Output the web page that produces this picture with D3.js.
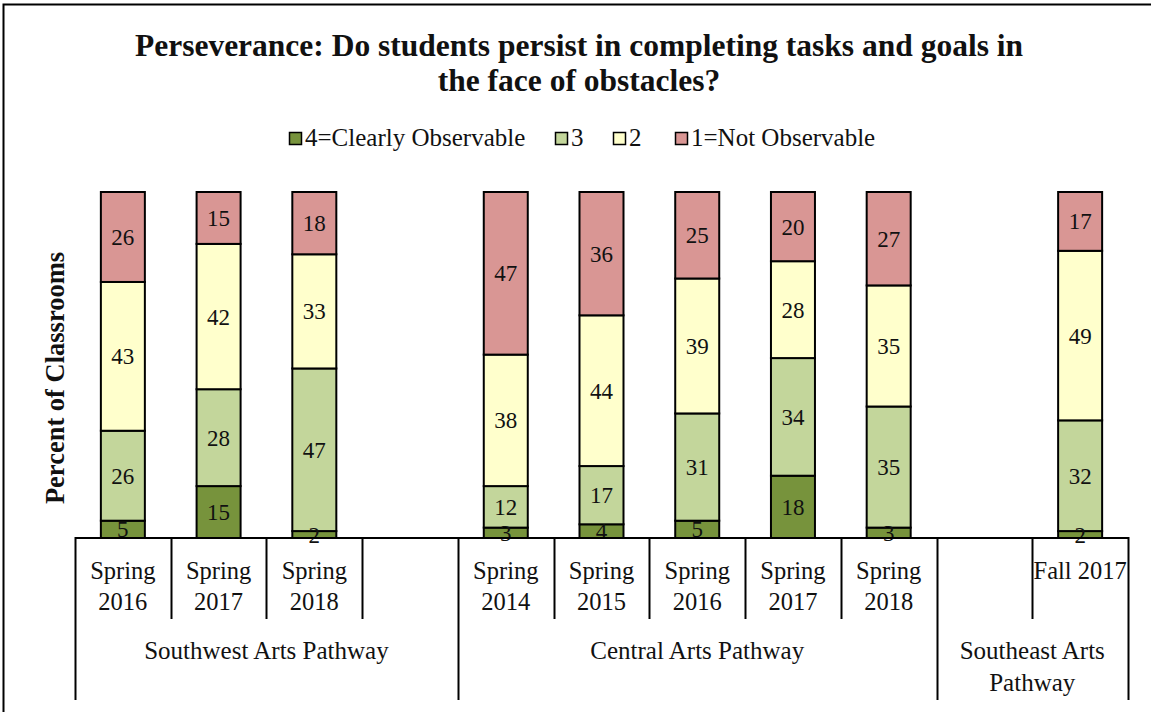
<!DOCTYPE html>
<html>
<head>
<meta charset="utf-8">
<script src="https://cdn.jsdelivr.net/npm/d3@7"></script>
<style>
  html, body { margin: 0; padding: 0; background: #fff; }
  svg { display: block; }
  text { font-family: "Liberation Serif", "Times New Roman", serif; fill: #111; }
</style>
</head>
<body>
<svg id="chart" width="1151" height="712"></svg>
<script>
// Observation slots along the axis; "" marks an empty slot that spaces the groups apart.
const categories = ["Spring\n2016", "Spring\n2017", "Spring\n2018", "",
                    "Spring\n2014", "Spring\n2015", "Spring\n2016", "Spring\n2017", "Spring\n2018", "",
                    "Fall 2017"];
const groupNames = ["Southwest Arts Pathway", "Central Arts Pathway", "Southeast Arts\nPathway"];
const groupSpans = [4, 5, 2];

// Percent of classrooms at each rating (null = no data in that slot)
const level4 = [5, 15, 2, null, 3, 4, 5, 18, 3, null, 2];
const level3 = [26, 28, 47, null, 12, 17, 31, 34, 35, null, 32];
const level2 = [43, 42, 33, null, 38, 44, 39, 28, 35, null, 49];
const level1 = [26, 15, 18, null, 47, 36, 25, 20, 27, null, 17];

const seriesNames = ["4=Clearly Observable", "3", "2", "1=Not Observable"];
const seriesColors = ["#77933C", "#C3D69B", "#FFFFCC", "#D99694"];

const title = ["Perseverance: Do students persist in completing tasks and goals in",
               "the face of obstacles?"];
const yTitle = "Percent of Classrooms";

// ---- layout ----
const svg = d3.select("#chart");
const plot = { left: 75, right: 1128, top: 192, bottom: 538 };
const barWidth = 44;

const slots = d3.range(categories.length);

const x = d3.scaleBand().domain(slots).range([plot.left, plot.right]).padding(0);
const y = d3.scaleLinear().domain([0, 1]).range([plot.bottom, plot.top]);

// outer frame
svg.append("rect")
  .attr("x", 3.5).attr("y", 4.5).attr("width", 1170).attr("height", 730)
  .attr("fill", "none").attr("stroke", "#000").attr("stroke-width", 2);

// title
svg.append("text")
  .attr("text-anchor", "middle")
  .style("font-weight", "bold").style("font-size", "31.5px")
  .selectAll("tspan").data(title).join("tspan")
  .attr("x", 579).attr("y", (d, i) => 56 + i * 35)
  .text(d => d);

// legend
const legendX = [289, 555, 613, 675];
const legend = svg.append("g");
legendX.forEach((lx, i) => {
  legend.append("rect")
    .attr("x", lx + 0.5).attr("y", 132.5).attr("width", 12).attr("height", 12)
    .attr("fill", seriesColors[i]).attr("stroke", "#000").attr("stroke-width", 1.5);
  legend.append("text")
    .attr("x", lx + 16).attr("y", 146)
    .style("font-size", "25px")
    .text(seriesNames[i]);
});

// y axis title
svg.append("text")
  .attr("transform", "translate(64,378) rotate(-90)")
  .attr("text-anchor", "middle")
  .style("font-weight", "bold").style("font-size", "26.5px")
  .text(yTitle);

// stacked, normalised to 100%
const rows = slots.map(i => ({
  slot: i,
  s0: level4[i] ?? 0, s1: level3[i] ?? 0, s2: level2[i] ?? 0, s3: level1[i] ?? 0,
  empty: level4[i] == null
}));
const stack = d3.stack().keys(["s0", "s1", "s2", "s3"]).offset(d3.stackOffsetExpand);
const stacked = stack(rows);

const bars = svg.append("g");
stacked.forEach((layer, k) => {
  const g = bars.append("g");
  layer.forEach(d => {
    if (d.data.empty) return;
    const cx = x(d.data.slot) + x.bandwidth() / 2;
    const y0 = y(d[0]), y1 = y(d[1]);
    g.append("rect")
      .attr("x", cx - barWidth / 2).attr("y", y1)
      .attr("width", barWidth).attr("height", y0 - y1)
      .attr("fill", seriesColors[k]).attr("stroke", "#000").attr("stroke-width", 2);
  });
});
// value labels on top of all segments
stacked.forEach((layer, k) => {
  layer.forEach(d => {
    if (d.data.empty) return;
    const cx = x(d.data.slot) + x.bandwidth() / 2;
    const mid = (y(d[0]) + y(d[1])) / 2;
    svg.append("text")
      .attr("x", cx).attr("y", mid + 8)
      .attr("text-anchor", "middle")
      .style("font-size", "23px")
      .text(d.data["s" + k]);
  });
});

// multi-level category axis
const axis = svg.append("g").attr("stroke", "#000").attr("stroke-width", 2);
axis.append("line")
  .attr("x1", plot.left).attr("x2", plot.right)
  .attr("y1", plot.bottom).attr("y2", plot.bottom);

const groupEdges = [0];
groupSpans.forEach(s => groupEdges.push(groupEdges[groupEdges.length - 1] + s));
const edgeX = i => (i < slots.length ? x(i) : plot.right);

slots.concat([slots.length]).forEach(i => {
  const isGroupEdge = groupEdges.includes(i);
  axis.append("line")
    .attr("x1", Math.round(edgeX(i)) + 0.5).attr("x2", Math.round(edgeX(i)) + 0.5)
    .attr("y1", plot.bottom - 1).attr("y2", isGroupEdge ? 700 : 619);
});

// slot labels
slots.forEach(i => {
  if (categories[i] === "") return;
  const lines = categories[i].split("\n");
  svg.append("text")
    .attr("text-anchor", "middle")
    .style("font-size", "24.5px")
    .selectAll("tspan").data(lines).join("tspan")
    .attr("x", x(i) + x.bandwidth() / 2)
    .attr("y", (d, j) => 579 + j * 31)
    .text(d => d);
});

// group labels
groupNames.forEach((name, gi) => {
  const cx = (edgeX(groupEdges[gi]) + edgeX(groupEdges[gi + 1])) / 2;
  svg.append("text")
    .attr("text-anchor", "middle")
    .style("font-size", "25px")
    .selectAll("tspan").data(name.split("\n")).join("tspan")
    .attr("x", cx)
    .attr("y", (d, j) => 659 + j * 32)
    .text(d => d);
});
</script>
</body>
</html>
